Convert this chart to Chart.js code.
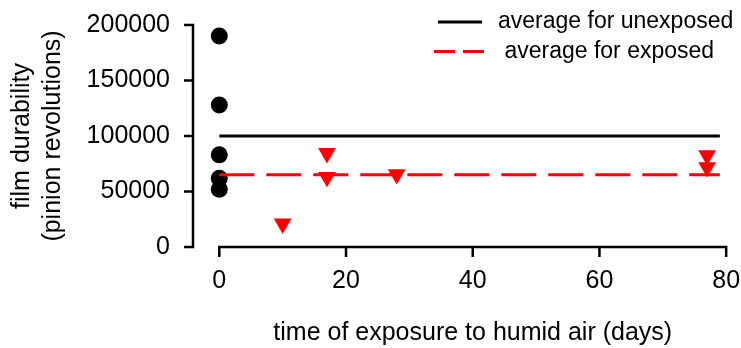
<!DOCTYPE html>
<html><head><meta charset="utf-8">
<script src="https://cdn.jsdelivr.net/npm/chart.js@4"></script>
<style>html,body{margin:0;padding:0;background:#fff;} canvas{display:block;}</style>
</head><body>
<canvas id="c" width="741" height="348"></canvas>
<script>
// ---- data ----
const unexposedDays = [0, 0, 0, 0, 0];
const unexposedDurability = [190000, 128000, 83000, 62000, 52000];
const exposedDays = [10, 17, 17, 28, 77, 77];
const exposedDurability = [21000, 84500, 63000, 65500, 82500, 71800];
const avgUnexposed = 100000;
const avgExposed = 65000;
const avgLineDays = [0, 79];
const xTicks = [0, 20, 40, 60, 80];
const yTicks = [0, 50000, 100000, 150000, 200000];
const legendLabels = ['average for unexposed', ' average for exposed'];
const xTitle = 'time of exposure to humid air (days)';
const yTitle = ['film durability', '(pinion revolutions)'];

const FONT = "'Liberation Sans', Arial, Helvetica, sans-serif";
const RED = '#ff0000';

const pts = (xs, ys) => xs.map((x, i) => ({x: x, y: ys[i]}));
const hline = (v) => avgLineDays.map(d => ({x: d, y: v}));

const axesPlugin = {
  id: 'rAxes',
  afterDraw(chart) {
    const {ctx, chartArea, scales: {x, y}} = chart;
    ctx.save();
    ctx.strokeStyle = '#000';
    ctx.lineWidth = 2.5;
    ctx.lineCap = 'butt';
    const xl = chartArea.left;
    const yTop = y.getPixelForValue(yTicks[yTicks.length - 1]);
    const yBot = y.getPixelForValue(yTicks[0]);
    ctx.beginPath();
    ctx.moveTo(xl, yTop - 1.25); ctx.lineTo(xl, yBot + 1.25);
    yTicks.forEach(v => { const p = y.getPixelForValue(v); ctx.moveTo(xl - 9, p); ctx.lineTo(xl, p); });
    ctx.stroke();
    const yb = chartArea.bottom;
    const xa = x.getPixelForValue(xTicks[0]);
    const xb = x.getPixelForValue(xTicks[xTicks.length - 1]);
    ctx.beginPath();
    ctx.moveTo(xa - 1.25, yb); ctx.lineTo(xb + 1.25, yb);
    xTicks.forEach(v => { const p = x.getPixelForValue(v); ctx.moveTo(p, yb); ctx.lineTo(p, yb + 10); });
    ctx.stroke();
    // x-axis title, centred on the middle of the x range (as R does)
    ctx.fillStyle = '#000';
    ctx.font = '25px ' + FONT;
    ctx.textAlign = 'center';
    ctx.textBaseline = 'middle';
    ctx.fillText(xTitle, x.getPixelForValue((xTicks[0] + xTicks[xTicks.length - 1]) / 2), 333);
    ctx.restore();
  }
};

const legendPlugin = {
  id: 'rLegend',
  afterDraw(chart) {
    const {ctx} = chart;
    const items = [
      {label: legendLabels[0], color: '#000', dash: [], x1: 438, x2: 482, y: 22},
      {label: legendLabels[1], color: RED, dash: [21, 8], x1: 434, x2: 485, y: 51.5}
    ];
    ctx.save();
    items.forEach(it => {
      ctx.strokeStyle = it.color;
      ctx.lineWidth = 3;
      ctx.setLineDash(it.dash);
      ctx.beginPath(); ctx.moveTo(it.x1, it.y); ctx.lineTo(it.x2, it.y); ctx.stroke();
      ctx.setLineDash([]);
      ctx.fillStyle = '#000';
      ctx.font = '23px ' + FONT;
      ctx.textAlign = 'left';
      ctx.textBaseline = 'middle';
      ctx.fillText(it.label, 498, it.y);
    });
    ctx.restore();
  }
};

new Chart(document.getElementById('c'), {
  type: 'scatter',
  data: {
    datasets: [
      {data: hline(avgUnexposed), showLine: true, borderColor: '#000', borderWidth: 3, pointRadius: 0, fill: false},
      {data: hline(avgExposed), showLine: true, borderColor: RED, borderWidth: 3, borderDash: [35, 12], pointRadius: 0, fill: false},
      {data: pts(unexposedDays, unexposedDurability), pointStyle: 'circle', pointRadius: 8.5, pointBorderWidth: 0, pointBackgroundColor: '#000', borderColor: '#000'},
      {data: pts(exposedDays, exposedDurability), pointStyle: 'triangle', pointRotation: 180, pointRadius: 10.3, pointBorderWidth: 0, pointBackgroundColor: RED, borderColor: RED}
    ]
  },
  options: {
    responsive: false,
    animation: false,
    devicePixelRatio: 1,
    layout: {autoPadding: false, padding: {left: 0, right: 0, top: 25, bottom: 0}},
    plugins: {legend: {display: false}, tooltip: {enabled: false}},
    scales: {
      x: {
        type: 'linear', min: -4.15, max: 82.34,
        grid: {display: false, drawTicks: false}, border: {display: false},
        afterBuildTicks: s => { s.ticks = xTicks.map(v => ({value: v})); },
        afterFit: s => { s.height = 101; s.paddingLeft = 0; s.paddingRight = 0; s.paddingTop = 0; s.paddingBottom = 0; },
        ticks: {color: '#000', padding: 19, maxRotation: 0, autoSkip: false, font: {family: FONT, size: 25}, callback: v => String(v)},
        title: {display: false}
      },
      y: {
        type: 'linear', min: 0, max: 200000,
        grid: {display: false, drawTicks: false}, border: {display: false},
        afterBuildTicks: s => { s.ticks = yTicks.map(v => ({value: v})); },
        afterFit: s => { s.width = 193; s.paddingLeft = 0; s.paddingRight = 0; s.paddingTop = 0; s.paddingBottom = 0; },
        ticks: {color: '#000', padding: 23, autoSkip: false, font: {family: FONT, size: 25}, callback: v => String(v)},
        title: {display: true, text: yTitle, color: '#000', padding: {top: 7, bottom: 0}, font: {family: FONT, size: 25, lineHeight: 1.24}}
      }
    }
  },
  plugins: [axesPlugin, legendPlugin]
});
</script>
</body></html>
